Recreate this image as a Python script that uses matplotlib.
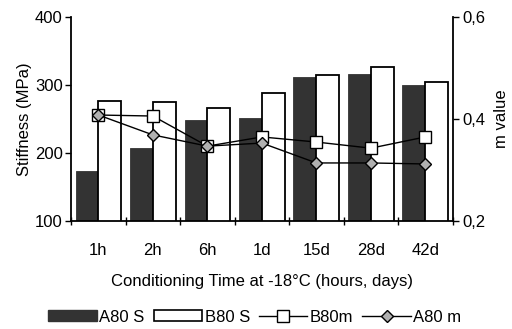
import numpy as np
import matplotlib.pyplot as plt
from matplotlib.patches import Patch
from matplotlib.lines import Line2D
from matplotlib.ticker import FixedLocator, FuncFormatter

plt.rcParams['font.family'] = ['Liberation Sans', 'DejaVu Sans']

## DATA
times = ['1h', '2h', '6h', '1d', '15d', '28d', '42d']
a80_s = [173, 207, 249, 252, 312, 317, 300]
b80_s = [276, 275, 267, 289, 315, 327, 305]
b80_m = [0.408, 0.406, 0.347, 0.365, 0.355, 0.343, 0.365]
a80_m = [0.408, 0.369, 0.347, 0.353, 0.314, 0.314, 0.312]

## FIGURE
fig = plt.figure(figsize=(5.12, 3.29), dpi=100)
ax = fig.add_axes([0.139, 0.328, 0.745, 0.62])
x = np.arange(len(times))
w = 0.42

ax.bar(x - w / 2, a80_s, w, color='#333333', edgecolor='#333333', linewidth=0.6, zorder=2)
ax.bar(x + w / 2, b80_s, w, color='white', edgecolor='black', linewidth=1.3, zorder=2)

ax.set_ylim(100, 400)
ax.set_xlim(-0.5, len(times) - 0.5)
ax.set_yticks([100, 200, 300, 400])
ax.set_ylabel('Stiffness (MPa)', fontsize=12, labelpad=2)
ax.set_xlabel('Conditioning Time at -18°C (hours, days)', fontsize=12, labelpad=11)

# ticks between categories, labels at centres
ax.xaxis.set_major_locator(FixedLocator(np.arange(-0.5, len(times), 1.0)))
ax.xaxis.set_major_formatter(FuncFormatter(lambda v, p: ''))
ax.xaxis.set_minor_locator(FixedLocator(x))
ax.set_xticklabels(times, minor=True)
ax.tick_params(axis='x', which='major', direction='inout', length=6, width=1)
ax.tick_params(axis='x', which='minor', length=0, labelsize=12, pad=16)
ax.tick_params(axis='y', direction='out', length=4, width=1, labelsize=12, pad=2)

for s in ['top', 'right']:
    ax.spines[s].set_visible(False)
ax.spines['left'].set_linewidth(1.3)
ax.spines['bottom'].set_linewidth(1.3)

## M VALUE AXIS
ax2 = ax.twinx()
ax2.set_ylim(0.2, 0.6)
ax2.set_yticks([0.2, 0.4, 0.6])
ax2.yaxis.set_major_formatter(FuncFormatter(lambda v, p: f'{v:.1f}'.replace('.', ',')))
ax2.tick_params(axis='y', direction='out', length=4, width=1, labelsize=12, pad=3)
ax2.set_ylabel('m value', fontsize=12, labelpad=6)
for s in ['top', 'left', 'bottom']:
    ax2.spines[s].set_visible(False)
ax2.spines['right'].set_linewidth(1.3)

ax2.plot(x, b80_m, color='black', linewidth=1, marker='s', markersize=9,
         markerfacecolor='white', markeredgecolor='black', zorder=3)
ax2.plot(x, a80_m, color='black', linewidth=1, marker='D', markersize=6.5,
         markerfacecolor='#b0b0b0', markeredgecolor='black', zorder=4)

## LEGEND
handles = [
    Patch(facecolor='#333333', edgecolor='#333333'),
    Patch(facecolor='white', edgecolor='black', linewidth=1.2),
    Line2D([], [], color='black', linewidth=1, marker='s', markersize=9,
           markerfacecolor='white'),
    Line2D([], [], color='black', linewidth=1, marker='D', markersize=6.5,
           markerfacecolor='#b0b0b0'),
]
labels = ['A80 S', 'B80 S', 'B80m', 'A80 m']
fig.legend(handles, labels, loc='center', bbox_to_anchor=(0.498, 0.036), ncol=4,
           frameon=False, fontsize=12, handlelength=2.9, handleheight=0.6,
           handletextpad=0.15, columnspacing=0.55, borderpad=0)

fig.savefig('out.png', dpi=100)
